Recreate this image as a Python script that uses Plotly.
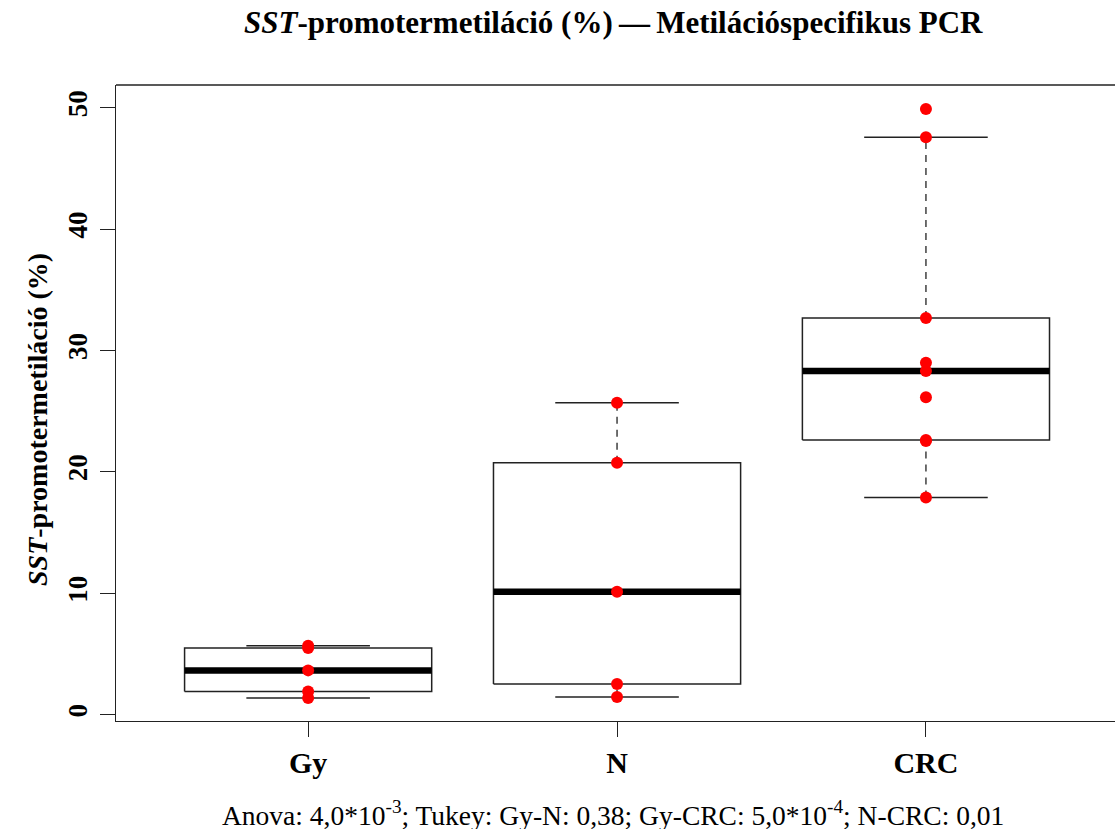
import numpy as np
import plotly.graph_objects as go

# Methylation values (%) per group
groups = ["Gy", "N", "CRC"]
gy_values = [1.38, 1.92, 3.65, 5.50, 5.68]
n_values = [1.45, 2.53, 10.13, 20.75, 25.70]
crc_values = [17.90, 22.55, 22.62, 26.14, 28.31, 29.00, 32.68, 47.56, 49.90]
group_values = [gy_values, n_values, crc_values]

y_ticks = [0, 10, 20, 30, 40, 50]

title_html = "<i>SST</i>-promotermetiláció (%)\u2009\u2014\u2009Metilációspecifikus PCR"
ytitle_html = "<i>SST</i>-promotermetiláció (%)"
footnote_html = ("Anova: 4,0*10<sup>-3</sup>; Tukey: Gy-N: 0,38; "
                 "Gy-CRC: 5,0*10<sup>-4</sup>; N-CRC: 0,01")

FONT = "Liberation Serif"
LINE = "#222222"


def tukey_stats(values):
    """Five-number summary with Tukey hinges and 1.5*IQR whiskers."""
    x = np.sort(np.asarray(values, dtype=float))
    n = len(x)
    n4 = np.floor((n + 3) / 2) / 2
    d = np.array([1, n4, (n + 1) / 2, n + 1 - n4, n]) - 1
    fn = 0.5 * (x[np.floor(d).astype(int)] + x[np.ceil(d).astype(int)])
    q1, med, q3 = fn[1], fn[2], fn[3]
    iqr = q3 - q1
    lo = x[x >= q1 - 1.5 * iqr].min()
    hi = x[x <= q3 + 1.5 * iqr].max()
    return q1, med, q3, lo, hi


fig = go.Figure()
half_box = 0.4
half_staple = 0.2

for i, vals in enumerate(group_values):
    xc = i + 1
    q1, med, q3, lo, hi = tukey_stats(vals)
    # whiskers (dashed)
    for a, b in [(q3, hi), (lo, q1)]:
        fig.add_trace(go.Scatter(x=[xc, xc], y=[a, b], mode="lines",
                                 line=dict(color=LINE, width=1.3, dash="7px,6px"),
                                 hoverinfo="skip", showlegend=False))
    # staples
    for v in (lo, hi):
        fig.add_trace(go.Scatter(x=[xc - half_staple, xc + half_staple], y=[v, v],
                                 mode="lines", line=dict(color=LINE, width=1.5),
                                 hoverinfo="skip", showlegend=False))
    # box
    fig.add_trace(go.Scatter(
        x=[xc - half_box, xc + half_box, xc + half_box, xc - half_box, xc - half_box],
        y=[q1, q1, q3, q3, q1], mode="lines",
        line=dict(color=LINE, width=1.5), hoverinfo="skip", showlegend=False))
    # median
    fig.add_trace(go.Scatter(x=[xc - half_box, xc + half_box], y=[med, med],
                             mode="lines", line=dict(color="black", width=6.5),
                             hoverinfo="skip", showlegend=False))

# individual measurements
for i, vals in enumerate(group_values):
    fig.add_trace(go.Scatter(x=[i + 1] * len(vals), y=vals, mode="markers",
                             marker=dict(color="#FF0000", size=12, line=dict(width=0)),
                             showlegend=False))

W, H = 1115, 829
ml, mr, mt, mb = 116, 0, 85, 108
pw, ph = W - ml - mr, H - mt - mb

fig.update_layout(
    width=W, height=H,
    margin=dict(l=ml, r=mr, t=mt, b=mb),
    plot_bgcolor="white", paper_bgcolor="white",
    font=dict(family=FONT, color="black"),
    showlegend=False,
    xaxis=dict(range=[0.378, 3.612], tickvals=[1, 2, 3], ticktext=groups,
               showgrid=False, zeroline=False, showline=True, linecolor=LINE,
               linewidth=1.4, ticks="outside", ticklen=15, tickwidth=1.3,
               tickcolor=LINE, ticklabelstandoff=0,
               tickfont=dict(family=FONT, size=30, weight="bold", color="black")),
    yaxis=dict(range=[-0.52, 51.87], tickvals=y_ticks,
               showgrid=False, zeroline=False, showline=True, linecolor=LINE,
               linewidth=1.4, ticks="outside", ticklen=15, tickwidth=1.3,
               tickcolor=LINE, tickangle=-90, ticklabelstandoff=2,
               tickfont=dict(family=FONT, size=27, weight="bold", color="black")),
    shapes=[dict(type="line", xref="paper", yref="paper", x0=0, x1=1, y0=1, y1=1,
                 line=dict(color=LINE, width=1.4))],
    annotations=[
        dict(text=title_html, xref="paper", yref="paper",
             x=(613 - ml) / pw, y=1 + (mt - 23) / ph, xanchor="center", yanchor="middle",
             showarrow=False, font=dict(family=FONT, size=31, weight="bold")),
        dict(text=ytitle_html, xref="paper", yref="paper",
             x=(38 - ml) / pw, y=(H - mb - 420) / ph, xanchor="center", yanchor="middle",
             textangle=-90, showarrow=False,
             font=dict(family=FONT, size=28, weight="bold")),
        dict(text=footnote_html, xref="paper", yref="paper",
             x=(613 - ml) / pw, y=-(813 - (H - mb)) / ph, xanchor="center", yanchor="middle",
             showarrow=False, font=dict(family=FONT, size=27.5)),
    ],
)

fig.write_html("out.html")
